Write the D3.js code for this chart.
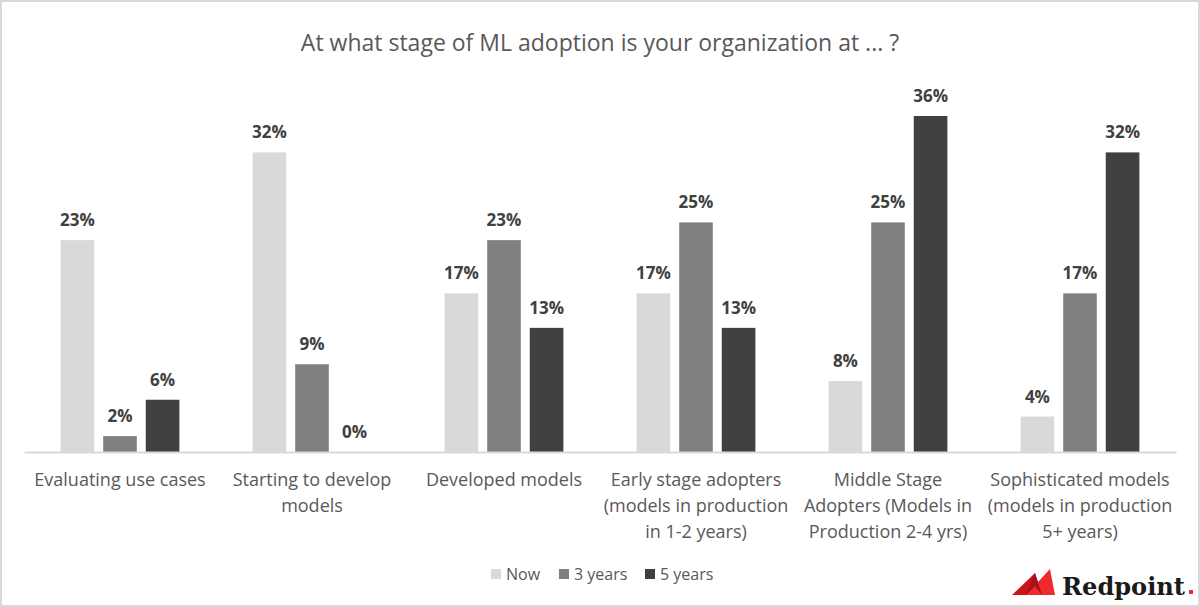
<!DOCTYPE html>
<html>
<head>
<meta charset="utf-8">
<script src="https://cdn.jsdelivr.net/npm/d3@7"></script>
<style>
  body { margin: 0; background: #fff; }
  #chart { width: 1200px; height: 607px; }
</style>
</head>
<body>
<div id="chart"></div>
<script>
// data (percent)
const categories = [
    ["Evaluating use cases"],
    ["Starting to develop", "models"],
    ["Developed models"],
    ["Early stage adopters", "(models in production", "in 1-2 years)"],
    ["Middle Stage", "Adopters (Models in", "Production 2-4 yrs)"],
    ["Sophisticated models", "(models in production", "5+ years)"]
];
const seriesNames = ["Now", "3 years", "5 years"];
const nowValues = [22.7, 32.1, 17.0, 17.0, 7.6, 3.8];
const threeYearValues = [1.7, 9.4, 22.7, 24.6, 24.6, 17.0];
const fiveYearValues = [5.6, 0, 13.3, 13.3, 36.0, 32.1];
const colors = ["#d9d9d9", "#808080", "#404040"];

const width = document.querySelector("#chart").clientWidth;
const height = document.querySelector("#chart").clientHeight;
const margin = { top: 80, left: 24, right: 24, bottom: 155 };
const font = "'Open Sans', sans-serif";

const svg = d3.select("#chart")
    .append("svg")
    .attr("width", width)
    .attr("height", height)
    .style("font-family", font);

// outer border
svg.append("rect")
    .attr("x", 1).attr("y", 1)
    .attr("width", width - 2).attr("height", height - 2)
    .attr("fill", "#fff")
    .attr("stroke", "#d9d9d9")
    .attr("stroke-width", 2);

const series = [nowValues, threeYearValues, fiveYearValues];
const data = [];
categories.forEach((c, i) => {
    series.forEach((s, j) => data.push({ cat: i, ser: j, value: s[i] }));
});

const xScale = d3.scaleBand()
    .domain(d3.range(categories.length))
    .range([margin.left, width - margin.right]);

const xInner = d3.scaleBand()
    .domain(d3.range(seriesNames.length))
    .range([0, xScale.bandwidth()])
    .paddingInner(0.21)
    .paddingOuter(0.86);

const yScale = d3.scaleLinear()
    .domain([0, 36])
    .range([height - margin.bottom, height - margin.bottom - 336]);

svg.selectAll("rect.bar")
    .data(data)
    .enter()
    .append("rect")
    .attr("class", "bar")
    .attr("x", d => xScale(d.cat) + xInner(d.ser))
    .attr("y", d => yScale(d.value))
    .attr("width", xInner.bandwidth())
    .attr("height", d => yScale(0) - yScale(d.value))
    .attr("fill", d => colors[d.ser]);

// value labels
svg.selectAll("text.val")
    .data(data)
    .enter()
    .append("text")
    .attr("class", "val")
    .attr("x", d => xScale(d.cat) + xInner(d.ser) + xInner.bandwidth() / 2)
    .attr("y", d => yScale(d.value) - 14)
    .attr("text-anchor", "middle")
    .attr("font-size", 17)
    .attr("font-weight", "bold")
    .attr("fill", "#404040")
    .text(d => Math.round(d.value) + "%");

// baseline axis
const xAxis = svg.append("g")
    .attr("transform", `translate(0,${yScale(0)})`)
    .call(d3.axisBottom(xScale).tickSize(0).tickFormat(""));
xAxis.select(".domain").attr("stroke", "#d9d9d9").attr("stroke-width", 2);

// category labels
const catLabels = svg.selectAll("text.cat")
    .data(categories)
    .enter()
    .append("text")
    .attr("class", "cat")
    .attr("text-anchor", "middle")
    .attr("font-size", 18)
    .attr("fill", "#595959");
catLabels.each(function (lines, i) {
    d3.select(this).selectAll("tspan")
        .data(lines)
        .enter()
        .append("tspan")
        .attr("x", xScale(i) + xScale.bandwidth() / 2)
        .attr("y", (d, k) => yScale(0) + 34 + k * 26)
        .text(d => d);
});

// title
svg.append("text")
    .attr("x", width / 2)
    .attr("y", 51)
    .attr("text-anchor", "middle")
    .attr("font-size", 23)
    .attr("fill", "#595959")
    .text("At what stage of ML adoption is your organization at ... ?");

// legend
const legend = svg.append("g").attr("transform", "translate(491,575)");
const legendX = [0, 68, 154];
seriesNames.forEach((name, i) => {
    const g = legend.append("g").attr("transform", `translate(${legendX[i]},0)`);
    g.append("rect").attr("x", 0).attr("y", -6).attr("width", 10).attr("height", 10).attr("fill", colors[i]);
    g.append("text").attr("x", 15).attr("y", 5).attr("font-size", 16).attr("fill", "#595959").text(name);
});

// logo
const logo = svg.append("g").attr("transform", "translate(1012,595)");
logo.append("path").attr("d", "M0,0 L23,-22 L30,0 Z").attr("fill", "#c8161d");
logo.append("path").attr("d", "M14,0 L38,-26 L43,0 Z").attr("fill", "#ee2a2f");
logo.append("path").attr("d", "M14,0 L23,-22 L30,0 L23,-9 Z").attr("fill", "#a8121a");
logo.append("text")
    .attr("x", 50).attr("y", 0)
    .style("font-family", "'DejaVu Serif', serif")
    .attr("font-weight", "bold")
    .attr("font-size", 24)
    .attr("textLength", 123)
    .attr("lengthAdjust", "spacingAndGlyphs")
    .attr("fill", "#1a1a1a")
    .text("Redpoint");
logo.append("rect").attr("x", 177).attr("y", -5).attr("width", 4).attr("height", 4).attr("fill", "#ee2a2f");
</script>
</body>
</html>
